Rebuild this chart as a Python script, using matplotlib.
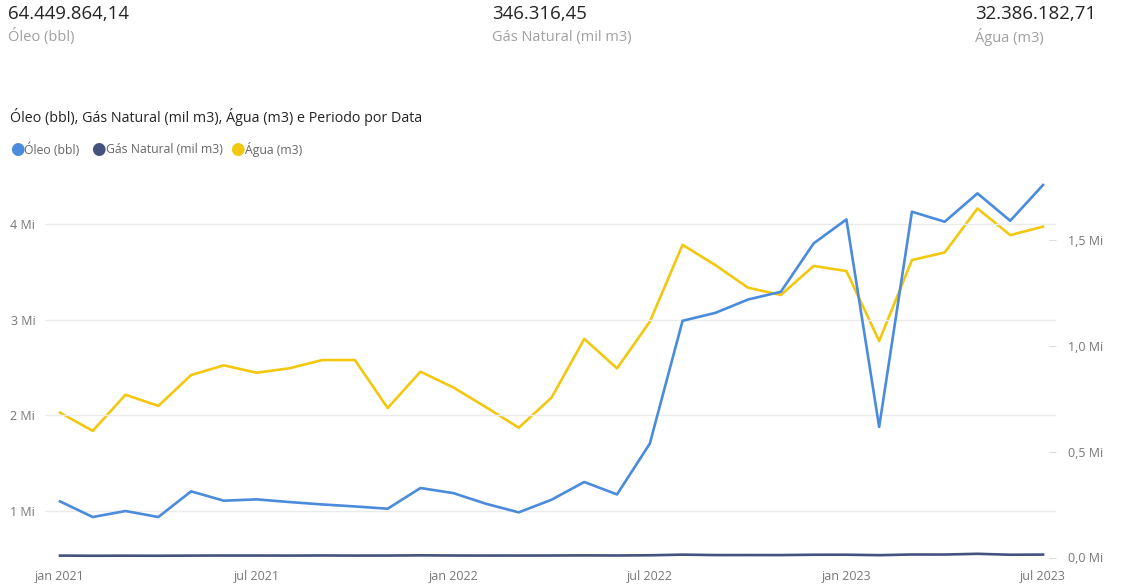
import numpy as np
import matplotlib
matplotlib.use('Agg')
import matplotlib.pyplot as plt
from matplotlib.ticker import FuncFormatter, FixedLocator

plt.rcParams['font.family'] = ['Open Sans', 'DejaVu Sans']

# monthly values, jan 2021 .. jul 2023
meses = ['jan 2021', 'fev 2021', 'mar 2021', 'abr 2021', 'mai 2021', 'jun 2021',
         'jul 2021', 'ago 2021', 'set 2021', 'out 2021', 'nov 2021', 'dez 2021',
         'jan 2022', 'fev 2022', 'mar 2022', 'abr 2022', 'mai 2022', 'jun 2022',
         'jul 2022', 'ago 2022', 'set 2022', 'out 2022', 'nov 2022', 'dez 2022',
         'jan 2023', 'fev 2023', 'mar 2023', 'abr 2023', 'mai 2023', 'jun 2023',
         'jul 2023']
oleo = [1.098, 0.934, 0.997, 0.934, 1.203, 1.105, 1.119, 1.091, 1.066, 1.045,
        1.021, 1.238, 1.185, 1.073, 0.983, 1.115, 1.301, 1.171, 1.703, 2.990,
        3.073, 3.213, 3.294, 3.801, 4.052, 1.878, 4.133, 4.028, 4.325, 4.038,
        4.413]  # Mi bbl
gas = [9.0, 8.2, 8.6, 8.3, 8.9, 9.3, 9.3, 9.0, 9.6, 9.0, 9.2, 10.2, 9.4, 9.1,
       9.2, 9.4, 10.0, 9.5, 10.5, 13.5, 11.5, 11.6, 11.5, 13.0, 13.2, 11.0,
       14.2, 14.0, 17.5, 13.0, 13.8]  # mil (x1000) mil m3
agua = [0.685, 0.599, 0.770, 0.717, 0.863, 0.909, 0.874, 0.895, 0.934, 0.934,
        0.707, 0.879, 0.805, 0.711, 0.614, 0.756, 1.034, 0.895, 1.115, 1.479,
        1.383, 1.276, 1.242, 1.379, 1.355, 1.024, 1.407, 1.443, 1.651, 1.525,
        1.565]  # Mi m3

kpi_vals = ['64.449.864,14', '346.316,45', '32.386.182,71']
kpi_labels = ['Óleo (bbl)', 'Gás Natural (mil m3)', 'Água (m3)']
xtick_idx = [0, 6, 12, 18, 24, 30]

c_oleo = '#4A8BDB'
c_gas = '#44527E'
c_agua = '#F2C80F'

W, H = 1121, 588
fig = plt.figure(figsize=(W/100, H/100), dpi=100)

# KPI cards
for xp, v, l in zip([8, 492, 975], kpi_vals, kpi_labels):
    fig.text(xp/W, 1-14/H, v, fontsize=13.4, color='#252423', va='center', ha='left')
    fig.text(xp/W, 1-37/H, l, fontsize=10.5, color='#a0a0a0', va='center', ha='left')

fig.text(10/W, 1-117/H, 'Óleo (bbl), Gás Natural (mil m3), Água (m3) e Periodo por Data',
         fontsize=10.3, color='#252423', va='center', ha='left')

# legend
lx = [17, 98.5, 237.5]
for xp, lab, c in zip(lx, kpi_labels, [c_oleo, c_gas, c_agua]):
    fig.text(xp/W, 1-150/H, '\u25CF', fontsize=12, color=c, va='center', ha='center')
    fig.text((xp+7.5)/W, 1-150/H, lab, fontsize=8.8, color='#666666', va='center', ha='left')

left, right, top, bottom = 45, 1056, 170, 557.5
ax = fig.add_axes([left/W, 1-bottom/H, (right-left)/W, (bottom-top)/H])
ax2 = ax.twinx()

x = np.arange(len(meses))
pxm = (1043-60)/30
ax.set_xlim(-(60-left)/pxm, 30+(right-1043)/pxm)

ax.plot(x, np.array(oleo)*1e6, color=c_oleo, lw=1.9, zorder=3)
ax2.plot(x, np.array(gas)*1e3, color=c_gas, lw=1.9, zorder=3)
ax2.plot(x, np.array(agua)*1e6, color=c_agua, lw=1.9, zorder=3)
ax.set_zorder(ax2.get_zorder()+1)
ax.patch.set_visible(False)

ax.set_ylim(0.51e6, 4.57e6)
ax2.set_ylim(0, 1.833e6)

ax.yaxis.set_major_locator(FixedLocator([1e6, 2e6, 3e6, 4e6]))
ax.yaxis.set_major_formatter(FuncFormatter(lambda v, p: '%d Mi' % round(v/1e6)))
ax2.yaxis.set_major_locator(FixedLocator([0, 0.5e6, 1.0e6, 1.5e6]))
ax2.yaxis.set_major_formatter(FuncFormatter(lambda v, p: ('%.1f Mi' % (v/1e6)).replace('.', ',')))

ax.set_xticks(xtick_idx)
ax.set_xticklabels([meses[i] for i in xtick_idx])

ax.grid(axis='y', color='#ebebeb', lw=1)
for a in (ax, ax2):
    for s in a.spines.values():
        s.set_visible(False)
ax.tick_params(axis='x', length=0, pad=9, labelsize=9, labelcolor='#777777')
ax.tick_params(axis='y', length=0, pad=7, labelsize=9, labelcolor='#777777')
ax2.tick_params(axis='y', length=5, direction='in', color='#dddddd', pad=9,
                labelsize=9, labelcolor='#777777')

fig.savefig('out.png', dpi=100, facecolor='white')
